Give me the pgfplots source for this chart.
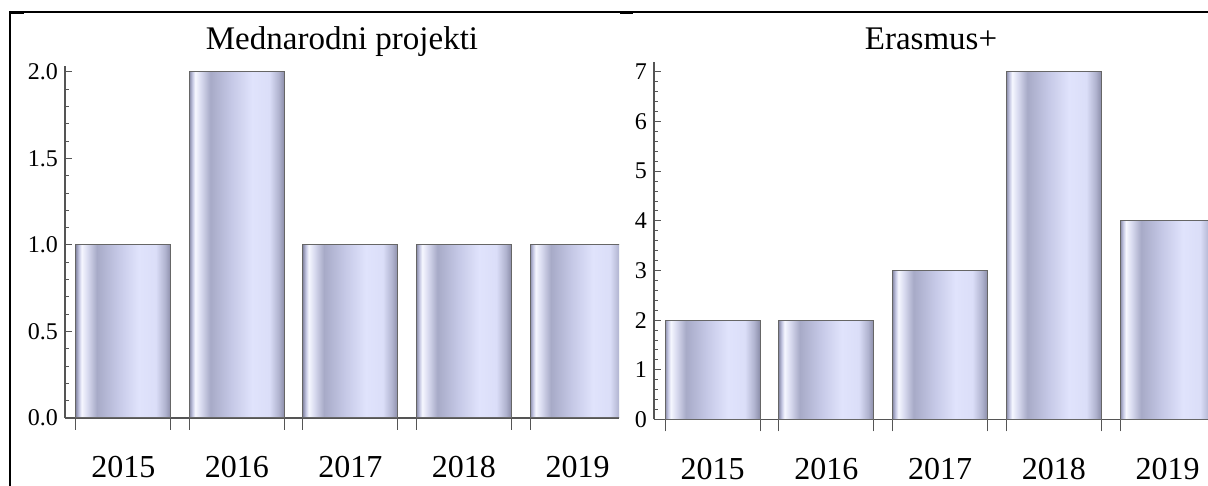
\documentclass[border=0pt]{standalone}
\usepackage{fontspec}
\setmainfont{Liberation Serif}
\usepackage{pgfplots}
\pgfplotsset{compat=1.18}
\definecolor{bE}{HTML}{8A8CA8}
\definecolor{b1}{HTML}{C4C7E3}
\definecolor{bW}{HTML}{F6F7FF}
\definecolor{b2}{HTML}{D9DBF0}
\definecolor{bD}{HTML}{A7AAC7}
\definecolor{b3}{HTML}{C5C8E6}
\definecolor{bL}{HTML}{E0E3FC}
\definecolor{bL2}{HTML}{DBDEF8}
\definecolor{b4}{HTML}{B0B3CF}
\definecolor{axc}{HTML}{555555}
\pgfdeclarehorizontalshading{barshade}{100bp}{color(0bp)=(bE); color(25bp)=(bE); color(26.5bp)=(b1); color(28bp)=(bW); color(31bp)=(b2); color(36bp)=(bD); color(47bp)=(b3); color(58bp)=(bL); color(67bp)=(bL2); color(72bp)=(b4); color(75bp)=(bE); color(100bp)=(bE)}
\pgfplotsset{
  panel/.style={
    scale only axis, width=277pt,
    axis lines=left,
    x axis line style={-, axc, line width=0.6pt},
    y axis line style={-, axc, line width=0.6pt},
    tick style={axc, line width=0.5pt},
    ytick align=inside,
    major tick length=3.5pt, minor tick length=2pt,
    minor y tick num=4,
    xtick={0,1,2,3,4},
    xticklabels={2015,2016,2017,2018,2019},
    xtick style={draw=none},
    extra x tick style={xtick style={draw=axc}, major tick length=6pt, tick align=outside},
    extra x tick labels={},
    xticklabel style={anchor=center, yshift=-23pt, font=\fontsize{16}{18}\selectfont},
    yticklabel style={font=\fontsize{12}{13}\selectfont},
    /pgf/number format/assume math mode=true,
    title style={at={(0.5,1)}, anchor=base, font=\fontsize{16.5}{18}\selectfont},
  },
  mybar/.style={ybar, bar width=47.5pt, bar shift=0pt, draw=black!60, line width=0.5pt, shading=barshade},
}
\begin{document}
\begin{tikzpicture}
\useasboundingbox (0,0) rectangle (604pt,243pt);
\draw[line width=1pt] (5pt,237pt) -- (604pt,237pt);
\draw[line width=1.2pt] (5pt,237.5pt) -- (5pt,0pt);
\draw[line width=1.8pt] (5pt,236.8pt) -- (12pt,236.8pt);
\draw[line width=1.8pt] (310pt,236.8pt) -- (316.5pt,236.8pt);
\begin{axis}[panel,
  at={(32.5pt,34pt)}, anchor=south west, height=176pt,
  xmin=-0.515, xmax=4.3656, ymin=0, ymax=2.0347,
  ytick={0,0.5,1,1.5,2},
  yticklabel style={/pgf/number format/.cd, fixed, fixed zerofill, precision=1},
  extra x ticks={-0.4185,0.4185,0.5815,1.4185,1.5815,2.4185,2.5815,3.4185,3.5815},
  title={Mednarodni projekti}, title style={yshift=2pt},
]
\addplot[mybar] coordinates {(0,1)};
\addplot[mybar] coordinates {(1,2)};
\addplot[mybar] coordinates {(2,1)};
\addplot[mybar] coordinates {(3,1)};
\addplot[mybar] coordinates {(4,1)};
\end{axis}
\begin{axis}[panel,
  at={(327pt,33.25pt)}, anchor=south west, height=178.75pt,
  xmin=-0.514, xmax=4.354, ymin=0, ymax=7.2,
  ytick={0,1,2,3,4,5,6,7},
  extra x ticks={-0.4174,0.4174,0.5826,1.4174,1.5826,2.4174,2.5826,3.4174,3.5826},
  title={Erasmus+}, title style={yshift=0pt},
]
\addplot[mybar] coordinates {(0,2)};
\addplot[mybar] coordinates {(1,2)};
\addplot[mybar] coordinates {(2,3)};
\addplot[mybar] coordinates {(3,7)};
\addplot[mybar] coordinates {(4,4)};
\end{axis}
\end{tikzpicture}
\end{document}
